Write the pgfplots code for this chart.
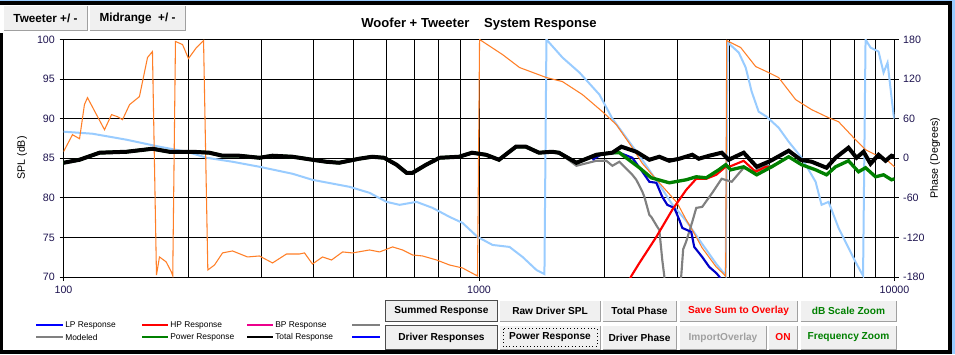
\documentclass[border=0pt]{standalone}
\usepackage{fontspec}
\setmainfont{Liberation Sans}
\usepackage{pgfplots}
\pgfplotsset{compat=1.18}
\definecolor{tickcol}{RGB}{30,20,80}
\definecolor{lblue}{RGB}{153,204,255}
\definecolor{orng}{RGB}{255,127,39}
\definecolor{dgreen}{RGB}{0,128,0}
\definecolor{lpblue}{RGB}{0,0,200}
\definecolor{btnbg}{RGB}{240,240,240}
\definecolor{btngray}{RGB}{160,160,160}
\definecolor{modgray}{RGB}{128,128,128}
\newcommand{\btn}[6]{%
  \fill[btnbg] (#1,#2) rectangle (#3,#4);
  \draw[white, line width=0.75pt] (#1+0.5,#4-0.5) -- (#1+0.5,#2+0.5) -- (#3-0.5,#2+0.5);
  \draw[btngray, line width=0.75pt] (#1+0.5,#4-0.5) -- (#3-0.5,#4-0.5) -- (#3-0.5,#2+0.5);
  \node[text=#6, font=\fontsize{7.6}{8}\selectfont\bfseries, inner sep=0pt] at ({(#1+#3)/2},{(#2+#4)/2}) {#5};
}
\begin{document}
\begin{tikzpicture}
\begin{scope}[x=0.75pt,y=-0.75pt]
  \fill[white] (0,0) rectangle (955,354);
  % vertical grid lines of the log frequency axis (decoration)
  \foreach \gx in {188.6,261.7,313.7,353.9,386.8,414.6,438.7,460.0,479.0,604.1,677.2,729.2,769.4,802.3,830.1,854.2,875.5}
    {\draw[black, line width=0.75pt] (\gx,39.5) -- (\gx,277);}
\end{scope}

% ---------------- SPL axis (left), grid ----------------
\begin{axis}[
  at={(47.625pt,-207.75pt)}, anchor=south west,
  width=623.25pt, height=178.125pt, scale only axis,
  xmode=log, xmin=100, xmax=10000,
  axis line style={black, line width=0.75pt},
  tick style={black, line width=0.75pt},
  tick align=outside, major tick length=3pt, minor tick length=0pt,
  yticklabel style={font=\fontsize{8}{9}\selectfont, text=tickcol},
  xticklabel style={font=\fontsize{8}{9}\selectfont, text=tickcol},
  ymin=70, ymax=100,
  ytick pos=left, yticklabel pos=left,
  xtick pos=bottom,
  ytick={70,75,80,85,90,95,100},
  xtick={100,1000,10000}, xticklabels={100,1000,10000},
  minor xtick={200,300,400,500,600,700,800,900,2000,3000,4000,5000,6000,7000,8000,9000},
  grid=both,
  major grid style={black, line width=0.75pt},
  minor grid style={black, line width=0.75pt},
  /pgf/number format/assume math mode=true,
]
\end{axis}

% ---------------- Phase axis (right) ----------------
\begin{axis}[
  at={(47.625pt,-207.75pt)}, anchor=south west,
  width=623.25pt, height=178.125pt, scale only axis,
  xmode=log, xmin=100, xmax=10000,
  axis line style={black, line width=0.75pt},
  tick style={black, line width=0.75pt},
  tick align=outside, major tick length=3pt,
  yticklabel style={font=\fontsize{8}{9}\selectfont, text=tickcol},
  ymin=-180, ymax=180,
  ytick pos=right, yticklabel pos=right,
  ytick={-180,-120,-60,0,60,120,180},
  hide x axis,
  /pgf/number format/assume math mode=true,
]
% light blue phase
\addplot[lblue, line width=1.5pt] coordinates {
(100,40.3) (117.4,37.2) (141.8,28.1) (170.2,17.5) (197.7,9.9) (221.0,0.8) (255.1,-5.3)
(296.2,-12.9) (355.8,-23.5) (397.4,-32.7) (488.0,-43.3) (545.2,-52.4) (599.1,-66.1)
(643.9,-70.6) (707.4,-66.1) (773.0,-75.2) (849.5,-88.9) (912.6,-98) (991.7,-119.2)
(1078,-131.4) (1184,-134.4) (1273,-149.6) (1375,-169.4) (1437,-175.5)
(1453,180) (1588,152.7) (1745,129.9) (1949,96.5) (2094,60) (2432,3.8) (2716,-40)
(2918,-70) (3153,-95) (3445,-130) (3723,-160) (3881,-174) (3924,-178)
(3967,175.5) (4217,160.3) (4384,137.5) (4531,101) (4710,70.6) (4924,63) (5262,46.3)
(5562,25.1) (5976,0.8) (6458,-35.7) (6675,-70.6) (6939,-66.1) (7334,-105.6)
(7750,-136) (8057,-157.2) (8330,-173.9) (8400,-178)
(8517,180) (8756,167.8) (9152,161.8) (9410,129.9) (9621,145) (9945,66.1) (10000,60)
};
% orange phase
\addplot[orng, line width=0.8pt] coordinates {
(100,9.9) (105.1,35.7) (109.3,29.6) (112.3,81.3) (114.2,91.9) (125.5,43.3) (130.5,66.1)
(134.9,63.0) (138.7,58.5) (144.2,81.3) (152.3,93.4) (159.3,152.7) (163.7,161.8)
(167.4,-177) (170.2,-149.6) (176.6,-157) (181.7,-172) (183.2,-178)
(186,177) (193.4,172.4) (199.9,151.1) (208.9,167.8) (217.3,178.5)
(222.5,-169.4) (230.9,-161.8) (241.4,-143.5) (255.1,-140.5) (277.2,-149.6)
(296.2,-148.1) (318.5,-158.7) (344.1,-145.1) (369.8,-145.1) (380.2,-143.5)
(397.4,-160.3) (420.2,-149.6) (441.7,-154.2) (469.5,-142.0) (496.2,-143.5)
(545.2,-139.0) (576.3,-142) (619.4,-134.4) (654.6,-139) (691.9,-146.6)
(731.4,-148.1) (790.4,-154.2) (849.5,-161.8) (912.6,-166.3) (991.7,-178.5)
(1003,180) (1139,157.2) (1252,137.5) (1453,122.3) (1588,116.2) (1774,96.5)
(1982,70.6) (2141,50.9) (2339,16) (2473,-8) (2716,-37.2) (2998,-67.6) (3153,-93.4)
(3260,-108.6) (3445,-136) (3723,-164.8) (3881,-175.5) (3924,-179)
(3946,178.5) (4264,167.8) (4633,139) (4978,129.9) (5262,122.3) (5781,88.9)
(6317,73.7) (6939,61.5) (7334,55.4) (8057,28.1) (8517,12.9) (9000,5.3)
(9568,-2.3) (10000,-13)
};
\end{axis}

% ---------------- SPL curves ----------------
\begin{axis}[
  at={(47.625pt,-207.75pt)}, anchor=south west,
  width=623.25pt, height=178.125pt, scale only axis,
  xmode=log, xmin=100, xmax=10000,
  ymin=70, ymax=100,
  hide axis,
]
% modeled (gray) 1
\addplot[modgray, line width=1.6pt] coordinates {
(1557,85.7) (1716,84.05) (1917,84.68) (2025,84.68) (2094,84.05) (2177,84.56)
(2339,82.91) (2391,82.28) (2473,80.76) (2500,80.13) (2570,77.85) (2598,77.59)
(2686,76.33) (2716,75.95) (2761,72.15) (2792,70.13) (2800,69)
};
% modeled (gray) 2
\addplot[modgray, line width=1.6pt] coordinates {
(3050,69) (3068,70.25) (3100,73.5) (3153,74.5) (3260,76.96) (3333,78.73) (3445,78.86)
(3642,80.63) (3838,82.41) (4057,82.03) (4335,83.80) (4582,83.29) (4897,84.18)
(5062,83.92) (5562,85.19)
};
% LP response
\addplot[lpblue, line width=1.6pt] coordinates {
(1875,84.81) (1982,85.57) (2177,85.70) (2339,85.06) (2473,83.29) (2570,82.03)
(2671,81.90) (2761,80.13) (2839,79.11) (2951,78.73) (3034,77.22) (3085,76.20)
(3242,75.70) (3296,73.80) (3445,72.53) (3582,71.27) (3723,70.51) (3776,70.13) (3850,69.5)
};
% HP response
\addplot[red, line width=1.6pt] coordinates {
(2250,68.5) (2326,70.13) (2432,71.77) (2671,75.06) (2918,78.48) (3153,81.01)
(3333,82.41) (3523,82.41) (3723,82.91) (3924,83.92) (4034,84.0) (4335,84.68)
(4633,83.29) (4897,83.9) (5062,83.92) (5562,85.19)
};
% Power response
\addplot[dgreen, line width=2.5pt] coordinates {
(100,84.43) (109.3,84.81) (122.1,85.70) (141.8,85.82) (163.7,86.20) (179.9,85.82)
(204.2,85.82) (224.4,85.70) (241.4,85.32) (264.9,85.32) (296.2,85.06) (318.5,85.32)
(355.8,85.19) (397.4,84.81) (428.8,84.56) (460.6,84.43) (514.6,84.94) (553.1,85.19)
(591.0,85.06) (633.3,84.18) (669.3,83.16) (691.9,83.16) (745.9,84.18) (803.6,85.06)
(895.2,85.19) (962.1,85.70) (1039.4,85.44) (1117,84.81) (1227,86.46) (1297,86.46)
(1394,85.70) (1498,85.82) (1557,85.70) (1716,84.43) (1917,85.44) (2094,85.70)
(2177,85.70) (2432,83.80) (2598,82.53) (2870,81.90) (3153,82.28) (3333,82.66)
(3523,82.53) (3776,83.54) (3924,84.18) (4034,83.54) (4335,83.92) (4659,82.91)
(5062,83.92) (5562,85.19) (5976,84.18) (6458,83.54) (6862,82.91) (7213,83.92)
(7750,84.68) (8192,83.29) (8517,83.80) (9000,82.66) (9410,82.91) (9835,82.28) (10000,82.4)
};
% Total response
\addplot[black, line width=3pt] coordinates {
(100,84.43) (109.3,84.81) (122.1,85.70) (141.8,85.82) (163.7,86.20) (179.9,85.82)
(204.2,85.82) (224.4,85.70) (241.4,85.32) (264.9,85.32) (296.2,85.06) (318.5,85.32)
(355.8,85.19) (397.4,84.81) (428.8,84.56) (460.6,84.43) (514.6,84.94) (553.1,85.19)
(591.0,85.06) (633.3,84.18) (669.3,83.16) (691.9,83.16) (745.9,84.18) (803.6,85.06)
(895.2,85.19) (962.1,85.70) (1039.4,85.44) (1117,84.81) (1227,86.46) (1297,86.46)
(1394,85.70) (1498,85.82) (1557,85.70) (1716,84.43) (1917,85.44) (2094,85.70)
(2201,86.46) (2391,85.82) (2570,84.81) (2716,85.19) (2870,84.68) (3034,84.94)
(3260,85.44) (3380,84.94) (3582,85.32) (3838,85.70) (3990,84.81) (4335,85.70)
(4659,83.92) (5034,84.68) (5562,85.95) (5943,84.81) (6317,84.56) (6862,83.80)
(7213,85.06) (7750,86.33) (8102,85.06) (8424,85.82) (8756,84.30) (9152,85.44)
(9515,84.68) (9835,85.32) (10000,85.2)
};
\end{axis}

\begin{scope}[x=0.75pt,y=-0.75pt]
  % window frame
  \fill[lblue] (0,0) rectangle (955,1.2);
  \fill[black] (0,1.2) rectangle (952,4.5);
  \fill[black] (0,33) rectangle (3,354);
  \fill[black] (948,1.2) rectangle (952,354);
  \fill[lblue] (952,0) rectangle (955,354);
  \fill[black] (0,350) rectangle (948,354);
  % title
  \node[font=\fontsize{9.8}{11}\selectfont\bfseries] at (479,24.5) {Woofer + Tweeter\hspace{11pt}System Response};
  % axis labels
  \node[rotate=90, font=\fontsize{8}{9}\selectfont] at (22,158) {SPL (dB)};
  \node[rotate=90, font=\fontsize{8}{9}\selectfont] at (935,158) {Phase (Degrees)};
  % top buttons
  \btn{3}{5}{88}{31}{\fontsize{8.8}{9}\selectfont Tweeter +/ -}{black}
  \btn{89}{5}{186}{31}{\fontsize{8.8}{9}\selectfont Midrange\ \ +/ -}{black}
  % bottom buttons
  \btn{385}{300}{498}{322}{Summed Response}{black}
  \btn{499}{300}{601}{322}{Raw Driver SPL}{black}
  \btn{602}{300}{677}{322}{Total Phase}{black}
  \btn{679}{300}{798}{322}{Save Sum to Overlay}{red}
  \btn{800}{300}{897}{322}{dB Scale Zoom}{dgreen}
  \btn{385}{325}{498}{350}{Driver Responses}{black}
  \btn{499}{325}{601}{350}{Power Response}{black}
  \btn{602}{325}{677}{350}{Driver Phase}{black}
  \btn{679}{325}{767}{350}{ImportOverlay}{btngray}
  \btn{768}{325}{798}{350}{ON}{red}
  \btn{800}{325}{897}{350}{Frequency Zoom}{dgreen}
  \draw[black!70, line width=1pt] (385.5,300.5) rectangle (497.5,321.5);
  \draw[black!70, line width=1pt] (385.5,325.5) rectangle (497.5,349.5);
  \draw[black, dotted, line width=0.6pt] (503,328.5) rectangle (597,346.5);
  % legend
  \begin{scope}[font=\fontsize{6.3}{7}\selectfont]
  \draw[blue, line width=1.5pt] (36,325) -- (63,325); \node[anchor=west, inner sep=0pt] at (65,325) {LP Response};
  \draw[red, line width=1.5pt] (142,325) -- (168,325); \node[anchor=west, inner sep=0pt] at (170,325) {HP Response};
  \draw[magenta, line width=1.5pt] (247,325) -- (273,325); \node[anchor=west, inner sep=0pt] at (275,325) {BP Response};
  \draw[modgray, line width=1.5pt] (352,325) -- (380,325);
  \draw[modgray, line width=1.5pt] (36,337) -- (63,337); \node[anchor=west, inner sep=0pt] at (65,337) {Modeled};
  \draw[dgreen, line width=1.5pt] (142,337) -- (168,337); \node[anchor=west, inner sep=0pt] at (170,337) {Power Response};
  \draw[black, line width=1.5pt] (247,337) -- (273,337); \node[anchor=west, inner sep=0pt] at (275,337) {Total Response};
  \draw[blue, line width=0.8pt] (352,337) -- (380,337);
  \end{scope}
\end{scope}
\pgfresetboundingbox
\path[use as bounding box] (0pt,0pt) rectangle (716.25pt,-265.5pt);
\end{tikzpicture}
\end{document}
